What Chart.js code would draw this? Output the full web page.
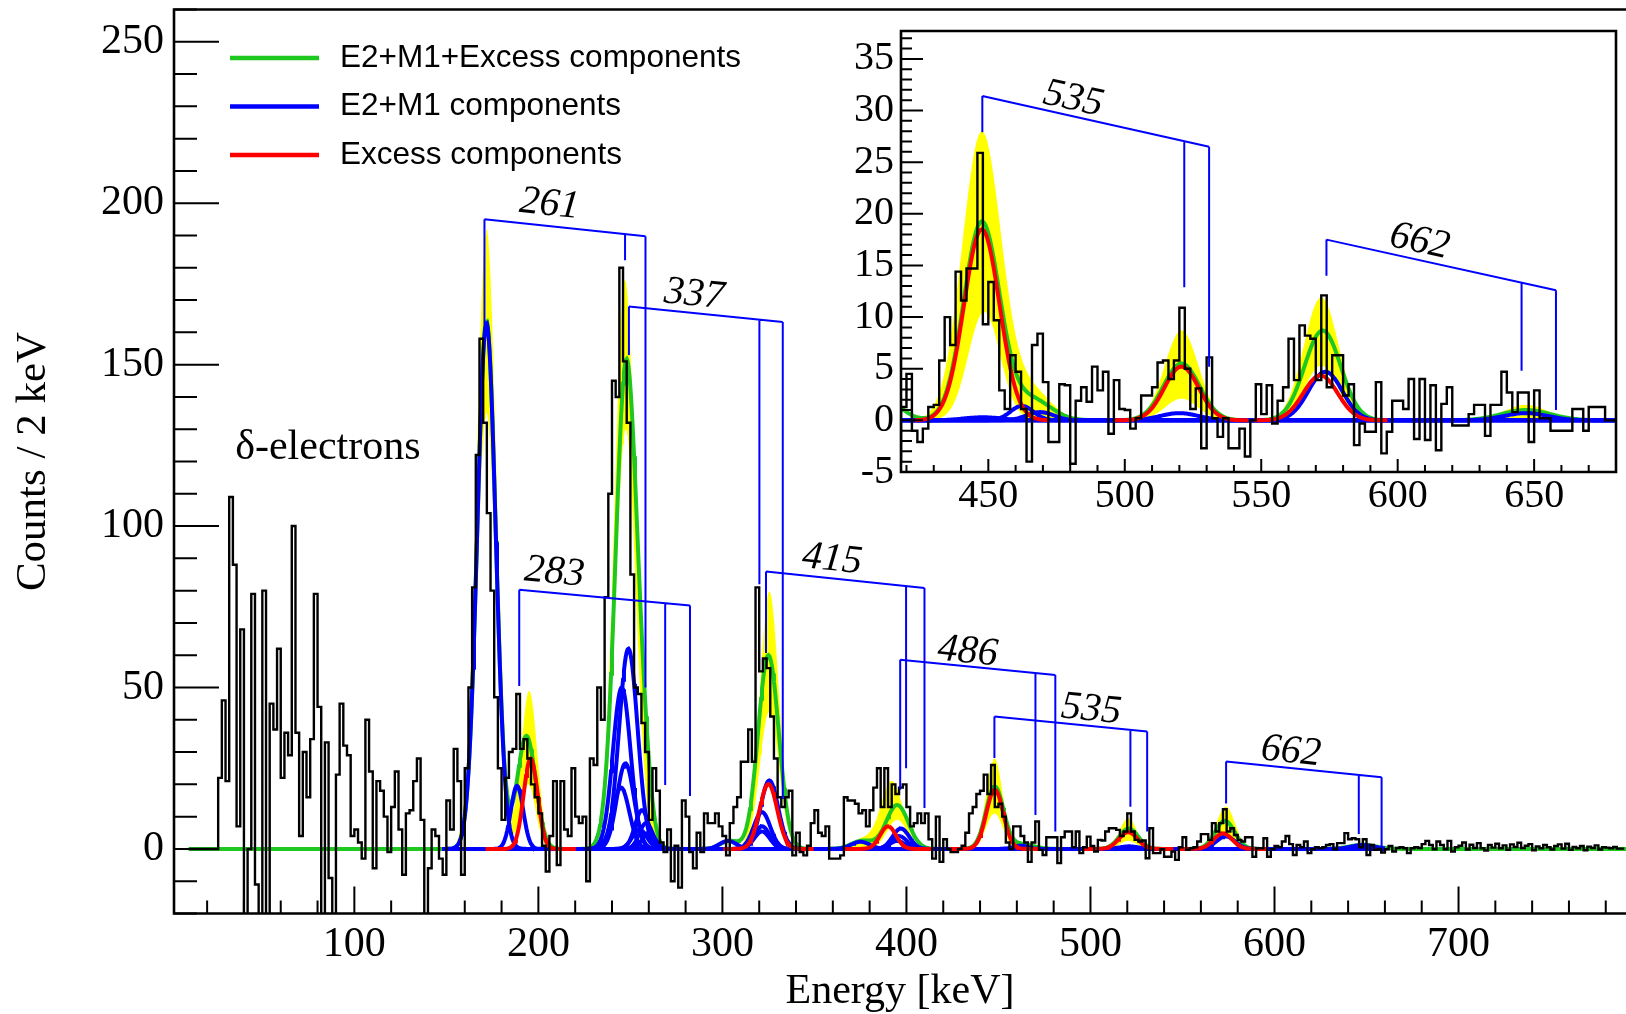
<!DOCTYPE html>
<html>
<head>
<meta charset="utf-8">
<script src="https://cdn.jsdelivr.net/npm/chart.js@4.4.1/dist/chart.umd.min.js"></script>
<style>
  body { margin: 0; background: #fff; }
  #wrap { position: relative; width: 1626px; height: 1014px; overflow: hidden; }
  #main { position: absolute; left: 0; top: 0; }
  #inset { position: absolute; left: 830px; top: 14px; }
</style>
</head>
<body>
<div id="wrap">
  <canvas id="main" width="1626" height="1014"></canvas>
  <canvas id="inset" width="796" height="530"></canvas>
</div>
<script>
// ---------- spectrum, 2 keV bins ----------
const mainLow = 10;
const binWidth = 2;
const mainCounts = [
  // 10 keV
  0, 0, 0, 0, 0, 0, 0, 0, 0, 22,
  // 30
  46, 21, 109, 88, 7, 68, -30, 0, 79, -11,
  // 50
  -30, 80, -30, 45, 37, 62, 22, 36, 29, 100,
  // 70
  36, 4, 30, 16, 34, 79, 44, -30, 33, -9,
  // 90
  -30, 23, 45, 32, 29, 4, 6, 2, -3, 40,
  // 110
  24, -6, 21, 18, 10, -1, 13, 24, 6, -8,
  // 130
  11, 12, 21, 28, 9, -25, -6, 6, 4, -3,
  // 150
  -8, 15, 6, 31, 21, -8, 25, 50, 81, 122,
  // 170
  158, 132, 104, 80, 47, 25, 9, 22, 30, 31,
  // 190
  48, 31, 34, 28, 20, 16, 11, 1, -7, 4,
  // 210
  21, -5, 21, 6, 4, 25, 10, 8, 10, -10,
  // 230
  28, 26, 50, 40, 78, 110, 145, 140, 180, 151,
  // 250
  132, 85, 50, 48, 39, 30, 9, 25, 18, 2,
  // 270
  -1, 6, -10, 1, -12, 15, 10, -1, -6, 5,
  // 290
  -1, 11, 8, 8, 11, 7, 4, -2, 8, 13,
  // 310
  16, 27, 27, 37, 27, 81, 55, 59, 56, 41,
  // 330
  28, 16, 13, 16, 18, -2, 5, -1, -2, 1,
  // 350
  8, 12, 5, 4, 7, -3, -3, -3, -2, 16,
  // 370
  15, 15, 14, 11, 12, 7, 12, 19, 25, 13,
  // 390
  25, 13, 20, 17, 19, 20, 13, 7, 8, 11,
  // 410
  8, 11, 3, -3, 10, -4, 3, 0, -1, -1,
  // 430
  0, 1, 5, 11, 13, 17, 18, 23, 17, 26,
  // 450
  13, 14, 10, 2, 0, 7, 7, 4, 2, -4,
  // 470
  2, 8.5, -0.3, -1.9, 3.6, 3.6, 3.6, -4.4, 3.6, 5.4,
  // 490
  5.4, 0.5, 5.4, -1.3, 0.5, 3.8, 0.9, -0.8, 2.8, 2.6,
  // 510
  5.4, 6.4, 6.4, 5.9, 4, 5.4, 11, 5.4, 2.8, 2.3,
  // 530
  2.6, -2.9, 6.4, -1.3, -1.3, -0.1, -2.4, -2.4, -0.8, -3.4,
  // 550
  0.5, 3.6, -0.3, 0.2, 0.5, 2.3, 4.6, 4.6, 2.8, 8,
  // 570
  5.4, 8, 12.3, 5.4, 6.4, 4.3, 2.8, 2.3, 3.6, 3.6,
  // 590
  -2.4, 0.2, 0.2, 3.3, -2.4, -0.1, 0.9, 0.5, 2.3, 4,
  // 610
  1.5, -1.9, 1.2, 0.5, 2.3, -1.3, -0.1, 0.5, 0.2, 0.5,
  // 630
  1.2, 1.5, -0.1, 1.8, 1.8, 4.9, 3, 3.3, 3, 0.5,
  // 650
  3, -1.9, 1.2, -0.3, 0, -1.1, -0.1, 0.9, -0.8, 0.3,
  // 670
  0.5, 0.2, -1.3, 0.2, 0.5, 0.3, 1.5, 2.5, 1.2, -0.1,
  // 690
  2.3, 1.2, -0.1, 2.5, -0.8, 0.5, 1.0, 2.0, -0.2, 1.3,
  // 710
  0.3, 1.8, 0.2, -0.5, 1.2, 0.4, 1.6, 0.2, 1.1, -0.3,
  // 730
  1.4, 0.6, 1.9, 0.3, 1.0, 1.5, -0.4, 0.8, 0.2, 1.2,
  // 750
  0.5, -0.2, 0.9, 1.4, 0.1, 1.6, -0.3, 0.6, 0.2, 0.9,
  // 770
  -0.4, 0.7, 0.3, 1.1, -0.2, 0.5, 0.4, 0.2, 0.6, 0.1
];

const insetLow = 418;
const insetCounts = [
  // 418 keV
  -4,
  // 420
  1.3, 4.5, -1.0, -2.1, -0.8, 1.3, 1.5, 5.8, 10, 7.3,
  // 440
  14.4, 11.6, 14.7, 14.7, 25.9, 9.3, 13.4, 9.7, 2.9, 1.1,
  // 460
  6.3, 4.7, 1.1, -4.0, 7.3, 8.4, 3.7, -2.1, -2.1, 3.5,
  // 480
  3.4, -4.2, 1.9, 3.2, 1.8, 5.2, 2.9, 4.7, -1.3, 3.9,
  // 500
  1.1, 1.0, -0.8, 0.2, 2.4, 2.4, 3.2, 5.6, 5.8, 4.0,
  // 520
  5.8, 10.9, 5.0, 1.1, 3.1, -2.7, 6.1, 0.2, -1.6, 0.2,
  // 540
  -2.7, -2.7, -0.8, -3.5, 0, 3.5, 0.6, 3.4, -0.3, 1.9,
  // 560
  3.2, 7.9, 3.9, 9.2, 8.2, 7.9, 3.9, 12.1, 3.2, 6.3,
  // 580
  6.3, 2.4, 3.5, -2.4, -0.3, -1.1, -1.1, 3.7, -3.2, -1.1,
  // 600
  1.9, 1.9, 1.1, 4.0, -1.8, 4.0, -1.9, 3.4, -2.9, 1.6,
  // 620
  3.2, -0.5, -0.5, -0.5, 0.6, 1.5, 1.5, -1.5, 1.5, 1.5,
  // 640
  4.7, 2.7, 0.8, 2.7, 2.7, -2.1, 2.9, 0.2, 0.2, -1,
  // 660
  -1, -1, -1, 1.1, 1.1, -1, 1.3, 1.3, 1.3, 0
];

// ---------- fit components: [centre keV, height, sigma keV] ----------
const mainTotalFit = [
  [171.8, 163.5, 5.0], [193.5, 35, 5.0], [247.8, 151, 5.8], [257.5, 14, 4.0],
  [304, 2.5, 5], [325, 60, 5.6], [376, 2.5, 6], [395, 13.6, 6],
  [448, 19.3, 4.8], [463, 1.5, 6], [520.8, 6.3, 5.2], [573, 8.7, 5.3], [648, 1.3, 7]
];
const mainE2M1 = [
  [171.8, 163, 5.0], [188.4, 19.5, 3.4],
  [248.9, 62, 5.0], [245.3, 50, 4.8], [247.3, 26.5, 4.6], [244.9, 19, 4.5],
  [255, 6, 4], [256.3, 12, 3.8], [258.5, 8, 3.6], [260, 5, 3.5],
  [303, 2.5, 4.5], [321.5, 5.4, 4.2], [321.5, 7, 4.3], [321.5, 11.4, 4.5], [325.5, 21.2, 4.8],
  [375, 2.2, 5], [395, 2.5, 4], [396, 4, 4.3], [397, 6.3, 4.5],
  [462, 1.0, 4], [521, 0.8, 5], [573.5, 3.9, 5], [648, 1.2, 6]
];
const mainExcess = [
  [195.8, 28, 3.8], [325, 20.1, 4.8], [390, 7, 4.3],
  [448, 18.3, 4.6], [520.5, 5.2, 5], [572, 4.8, 5]
];
const mainBandUpper = [
  [171.8, 192, 5.4], [195, 49, 4.4], [247, 176, 5.6], [258, 16, 4],
  [325.5, 79.8, 5.2], [376, 3, 6], [392, 21, 6], [447.8, 28, 4.5],
  [520.5, 9.5, 4.6], [573.5, 13.1, 5]
];
const mainBandLower = [
  [171.8, 135, 5.0], [194.5, 20, 4], [247.5, 130, 5.5], [325.5, 42.5, 5.2],
  [395, 9, 5.5], [447.8, 11, 4.5], [520.5, 2.5, 4.5], [573, 4.5, 5]
];

const insetTotalFit = [
  [412, 2, 6], [447.6, 19.2, 6.6], [466, 2.0, 7], [520.8, 5.5, 6.6], [572.5, 8.7, 6.6], [647, 1.0, 9]
];
const insetE2M1 = [
  [448, 0.3, 7], [462.3, 1.4, 4.2], [469, 0.8, 5], [520, 0.7, 7], [573.5, 4.7, 6.2], [647, 0.7, 8]
];
const insetExcess = [
  [447.6, 18.5, 6.5], [520.8, 5.2, 6.3], [571.7, 4.35, 6.3]
];
const insetBandUpper = [
  [447.6, 27.9, 7.2], [466, 2.8, 7], [520.8, 8.7, 6.2], [572, 11.9, 6.4], [647, 1.5, 8]
];
const insetBandLower = [
  [448.5, 10.5, 5.8], [520.8, 2.1, 6], [572, 5.3, 6]
];

// ---------- level-scheme brackets (keV, counts) ----------
const mainBrackets = [
  { label: '261', legs: [170.7, 247.1, 258.2], bottoms: [160, 182.3, 50],  top: [195, 189.8],  text: [206, 199.6] },
  { label: '337', legs: [249.2, 320.1, 332.8], bottoms: [153, 82, 15.5],   top: [168, 163.2],  text: [284.7, 171.6] },
  { label: '283', legs: [189.6, 268.9, 282.4], bottoms: [50.5, 19.8, 16.4], top: [80.3, 75.4], text: [208.7, 85.6] },
  { label: '415', legs: [323.7, 399.8, 409.8], bottoms: [60.7, 25, 12.7],  top: [85.9, 80.8],  text: [359.6, 89.6] },
  { label: '486', legs: [396.6, 470.1, 480.9], bottoms: [18.3, 10.5, 5.4], top: [58.6, 53.9],  text: [433.3, 61] },
  { label: '535', legs: [447.8, 521.7, 530.8], bottoms: [28.2, 13.1, 5.4], top: [41, 36.4],    text: [500.4, 43.1] },
  { label: '662', legs: [573.7, 645.8, 658.2], bottoms: [14.1, 4.6, 0.7],  top: [27.1, 22.2],  text: [608.9, 30.1] }
];
const insetBrackets = [
  { label: '535', legs: [447.8, 521.8, 530.9], bottoms: [27.9, 12.9, 5.2], top: [31.4, 26.5], text: [481.1, 31.1] },
  { label: '662', legs: [573.9, 645.4, 658.0], bottoms: [14, 4.8, 1.0],    top: [17.5, 12.6], text: [608, 17.3] }
];

const mainXTicks = [100, 200, 300, 400, 500, 600, 700];
const mainYTicks = [0, 50, 100, 150, 200, 250];
const insetXTicks = [450, 500, 550, 600, 650];
const insetYTicks = [-5, 0, 5, 10, 15, 20, 25, 30, 35];

const legendLabels = ['E2+M1+Excess components', 'E2+M1 components', 'Excess components'];

// ---------- styling ----------
const GREEN = '#1ec81e', BLUE = '#0000ff', RED = '#ff0000', YELLOW = '#ffff00';
const SERIF = "'Liberation Serif', 'Times New Roman', serif";
const SANS = "'Liberation Sans', Arial, sans-serif";

function curve(peaks, lo, hi, step) {
  const pts = [];
  const n = Math.round((hi - lo) / step);
  for (let i = 0; i <= n; i++) {
    const e = lo + i * step;
    let v = 0;
    for (const [mu, h, s] of peaks) v += h * Math.exp(-0.5 * ((e - mu) / s) ** 2);
    pts.push({ x: e, y: v });
  }
  return pts;
}

function steps(counts, low) {
  const pts = counts.map((c, i) => ({ x: low + i * binWidth, y: c }));
  pts.push({ x: low + counts.length * binWidth, y: counts[counts.length - 1] });
  return pts;
}

function lineSet(data, color, width, order, extra) {
  return Object.assign({
    data, borderColor: color, borderWidth: width, order,
    pointRadius: 0, tension: 0, fill: false
  }, extra || {});
}

function buildDatasets(spec) {
  const ds = [];
  const none = 'rgba(0,0,0,0)';
  // error band: yellow up to the upper edge, then cleared below the lower edge
  ds.push(lineSet(curve(spec.bandLow, spec.bandRange[0], spec.bandRange[1], 0.5), none, 0, 4,
    { fill: 'origin', backgroundColor: '#fff' }));
  ds.push(lineSet(curve(spec.bandHigh, spec.bandRange[0], spec.bandRange[1], 0.5), none, 0, 5,
    { fill: 'origin', backgroundColor: YELLOW }));
  ds.push(lineSet(curve(spec.total, spec.totalRange[0], spec.totalRange[1], 0.5), GREEN, 4, 3));
  spec.e2m1.forEach(p => ds.push(lineSet(curve([p], spec.blueRange[0], spec.blueRange[1], 0.5), BLUE, 4, 2)));
  spec.excess.forEach(p => ds.push(lineSet(curve([p], p[0] - 24.5, p[0] + 24.5, 0.5), RED, 4, 1)));
  ds.push(lineSet(steps(spec.counts, spec.low), '#000', 2.4, 0, { stepped: 'after' }));
  return ds;
}

// inward ticks and frame, drawn from the chart's own scales
const rootFrame = {
  id: 'rootFrame',
  afterDatasetsDraw(chart, args, o) {
    const { ctx, chartArea: a, scales: { x, y } } = chart;
    ctx.save();
    ctx.strokeStyle = '#000';
    ctx.lineWidth = o.tickWidth;
    ctx.beginPath();
    const majX = x.ticks.map(t => t.value), majY = y.ticks.map(t => t.value);
    const isMaj = (v, list) => list.some(m => Math.abs(m - v) < 1e-6);
    for (let i = Math.ceil(x.min / o.xMinor); i * o.xMinor <= x.max; i++) {
      const v = i * o.xMinor, px = x.getPixelForValue(v);
      const len = isMaj(v, majX) ? o.xLen[0] : o.xLen[1];
      ctx.moveTo(px, a.bottom); ctx.lineTo(px, a.bottom - len);
    }
    for (let i = Math.ceil(y.min / o.yMinor); i * o.yMinor <= y.max; i++) {
      const v = i * o.yMinor, py = y.getPixelForValue(v);
      const len = isMaj(v, majY) ? o.yLen[0] : o.yLen[1];
      ctx.moveTo(a.left, py); ctx.lineTo(a.left + len, py);
    }
    ctx.stroke();
    ctx.lineWidth = o.frameWidth;
    ctx.beginPath();
    if (o.box) {
      ctx.rect(a.left, a.top, a.right - a.left, a.bottom - a.top);
    } else {
      ctx.moveTo(a.right + 2, a.top); ctx.lineTo(a.left, a.top);
      ctx.lineTo(a.left, a.bottom); ctx.lineTo(a.right + 2, a.bottom);
    }
    ctx.stroke();
    ctx.restore();
  }
};

// level-scheme brackets, text notes and the line legend
const annotations = {
  id: 'annotations',
  afterDatasetsDraw(chart, args, o) {
    const { ctx, chartArea: a, scales: { x, y } } = chart;
    ctx.save();
    ctx.beginPath();
    ctx.rect(a.left, a.top, a.right - a.left, a.bottom - a.top);
    ctx.clip();
    ctx.strokeStyle = BLUE;
    ctx.lineWidth = 2;
    for (const b of o.brackets) {
      const xs = b.legs.map(v => x.getPixelForValue(v));
      const x0 = xs[0], x1 = xs[xs.length - 1];
      const y0 = y.getPixelForValue(b.top[0]), y1 = y.getPixelForValue(b.top[1]);
      const topAt = px => y0 + (y1 - y0) * (px - x0) / (x1 - x0);
      ctx.beginPath();
      ctx.moveTo(x0, y0); ctx.lineTo(x1, y1);
      xs.forEach((px, i) => { ctx.moveTo(px, topAt(px)); ctx.lineTo(px, y.getPixelForValue(b.bottoms[i])); });
      ctx.stroke();
      ctx.save();
      ctx.translate(x.getPixelForValue(b.text[0]), y.getPixelForValue(b.text[1]));
      ctx.rotate(Math.atan2(y1 - y0, x1 - x0));
      ctx.font = 'italic ' + o.labelSize + 'px ' + SERIF;
      ctx.fillStyle = '#000';
      ctx.textAlign = 'center';
      ctx.textBaseline = 'middle';
      ctx.fillText(b.label, 0, 0);
      ctx.restore();
    }
    for (const n of (o.notes || [])) {
      ctx.font = n.font;
      ctx.fillStyle = '#000';
      ctx.textAlign = 'center';
      ctx.textBaseline = 'middle';
      ctx.fillText(n.text, x.getPixelForValue(n.at[0]), y.getPixelForValue(n.at[1]));
    }
    if (o.legend) {
      const L = o.legend;
      L.items.forEach((it, i) => {
        const yy = L.top + i * L.gap;
        ctx.strokeStyle = it.color;
        ctx.lineWidth = 4.5;
        ctx.beginPath();
        ctx.moveTo(L.lineFrom, yy); ctx.lineTo(L.lineTo, yy);
        ctx.stroke();
        ctx.font = L.size + 'px ' + SANS;
        ctx.fillStyle = '#000';
        ctx.textAlign = 'left';
        ctx.textBaseline = 'middle';
        ctx.fillText(it.text, L.textX, yy);
      });
    }
    ctx.restore();
  }
};

const whitePad = {
  id: 'whitePad',
  beforeDraw(chart) {
    const { ctx, width, height } = chart;
    ctx.save();
    ctx.fillStyle = '#fff';
    ctx.fillRect(0, 0, width, height);
    ctx.restore();
  }
};

function axis(range, tickValues, fixed, font, pad, title) {
  const horizontal = fixed.height !== undefined;
  return {
    type: 'linear', min: range[0], max: range[1],
    grid: { display: false, drawTicks: false }, border: { display: false },
    afterBuildTicks: s => { s.ticks = tickValues.map(v => ({ value: v })); },
    afterFit: s => {
      if (horizontal) { s.height = fixed.height; s.paddingLeft = 0; s.paddingRight = 0; }
      else { s.width = fixed.width; s.paddingTop = 0; s.paddingBottom = 0; }
    },
    ticks: { font: { family: SERIF, size: font }, color: '#000', padding: pad, maxRotation: 0, minRotation: 0, autoSkip: false },
    title: title || { display: false }
  };
}

Chart.defaults.animation = false;

new Chart(document.getElementById('main'), {
  type: 'line',
  data: {
    datasets: buildDatasets({
      counts: mainCounts, low: mainLow,
      total: mainTotalFit, e2m1: mainE2M1, excess: mainExcess,
      bandHigh: mainBandUpper, bandLow: mainBandLower,
      bandRange: [150, 660], totalRange: [10, 791], blueRange: [148, 660]
    })
  },
  options: {
    responsive: false, devicePixelRatio: 1, events: [],
    layout: { padding: { top: 9.5, right: 0, bottom: 0, left: 0 } },
    scales: {
      x: axis([2, 791], mainXTicks, { height: 100.5 }, 42, 6,
        { display: true, text: 'Energy [keV]', color: '#000', font: { family: SERIF, size: 42, lineHeight: 1.05 }, padding: { top: 0, bottom: 0 } }),
      y: axis([-20, 260], mainYTicks, { width: 174 }, 42, 10,
        { display: true, text: 'Counts / 2 keV', color: '#000', font: { family: SERIF, size: 43 }, padding: { top: 8, bottom: 0 } })
    },
    plugins: {
      legend: { display: false },
      tooltip: { enabled: false },
      rootFrame: { tickWidth: 2, frameWidth: 2.6, xMinor: 20, yMinor: 10, xLen: [27, 13], yLen: [45, 23], box: false },
      annotations: {
        brackets: mainBrackets, labelSize: 40,
        notes: [{ text: 'δ-electrons', at: [85.6, 124.3], font: '42px ' + SERIF }],
        legend: {
          top: 58, gap: 48.5, lineFrom: 230, lineTo: 319, textX: 340, size: 31.5,
          items: [
            { text: legendLabels[0], color: GREEN },
            { text: legendLabels[1], color: BLUE },
            { text: legendLabels[2], color: RED }
          ]
        }
      }
    }
  },
  plugins: [rootFrame, annotations]
});

new Chart(document.getElementById('inset'), {
  type: 'line',
  data: {
    datasets: buildDatasets({
      counts: insetCounts, low: insetLow,
      total: insetTotalFit, e2m1: insetE2M1, excess: insetExcess,
      bandHigh: insetBandUpper, bandLow: insetBandLower,
      bandRange: [418, 680], totalRange: [418, 680], blueRange: [418, 680]
    })
  },
  options: {
    responsive: false, devicePixelRatio: 1, events: [],
    layout: { padding: { top: 17, right: 10, bottom: 0, left: 0 } },
    scales: {
      x: axis([418, 680], insetXTicks, { height: 72 }, 40, 0),
      y: axis([-5, 37.7], insetYTicks, { width: 71 }, 40, 7)
    },
    plugins: {
      legend: { display: false },
      tooltip: { enabled: false },
      rootFrame: { tickWidth: 2, frameWidth: 2.6, xMinor: 10, yMinor: 1, xLen: [13, 7], yLen: [22, 11], box: true },
      annotations: { brackets: insetBrackets, labelSize: 40 }
    }
  },
  plugins: [whitePad, rootFrame, annotations]
});
</script>
</body>
</html>
